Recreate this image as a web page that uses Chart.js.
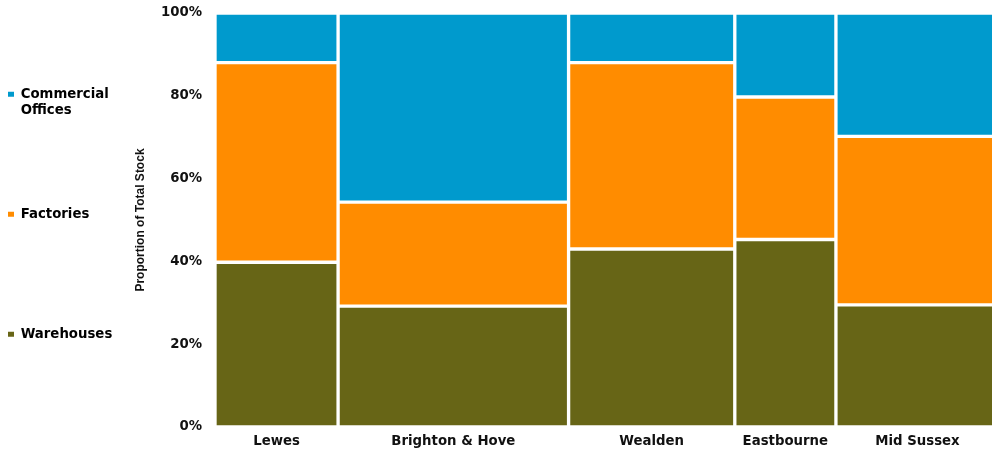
<!DOCTYPE html>
<html>
<head>
<meta charset="utf-8">
<title>Proportion of Total Stock</title>
<script src="https://cdn.jsdelivr.net/npm/chart.js@4.4.0/dist/chart.umd.min.js"></script>
<style>
  html, body { margin: 0; padding: 0; background: #fff; overflow: hidden; }
  /* the plot runs a few px past the right edge of the window, as in the original */
  #wrap { width: 999px; height: 454px; position: relative; }
</style>
</head>
<body>
<div id="wrap"><canvas id="stockChart"></canvas></div>
<script>
const districts = ['Lewes', 'Brighton & Hove', 'Wealden', 'Eastbourne', 'Mid Sussex'];
// each district's share of all stock -> column width (%)
const districtShare = [15.7, 29.4, 21.2, 12.9, 20.8];
// split of stock inside each district (%)
const warehouses = [39.8, 29.2, 43.0, 45.3, 29.5];
const factories = [48.2, 25.1, 45.0, 34.4, 40.7];
const commercialOffices = [12.0, 45.7, 12.0, 20.3, 29.8];
const yTicks = [0, 20, 40, 60, 80, 100];

const colours = {
    warehouses: '#676516',
    factories: '#ff8c00',
    commercialOffices: '#009acd'
};

// column edges on the 0-100 x scale
const colStart = [];
const colEnd = [];
let acc = 0;
districtShare.forEach(w => {
    colStart.push(acc);
    acc += w;
    colEnd.push(acc);
});
const colMid = colStart.map((s, i) => (s + colEnd[i]) / 2);

// one dataset per district, three floating bars stacked by hand
const datasets = districts.map((name, i) => {
    const w = warehouses[i];
    const f = factories[i];
    const c = commercialOffices[i];
    return {
        label: name,
        data: [
            {x: colMid[i], y: [0, w]},
            {x: colMid[i], y: [w, w + f]},
            {x: colMid[i], y: [w + f, w + f + c]}
        ],
        backgroundColor: [colours.warehouses, colours.factories, colours.commercialOffices],
        borderColor: '#ffffff',
        borderWidth: 2,
        borderSkipped: false,
        grouped: false,
        // width of the column follows the district's share
        barThickness: ctx => {
            const x = ctx.chart.scales.x;
            return x.getPixelForValue(colEnd[i]) - x.getPixelForValue(colStart[i]);
        }
    };
});

Chart.defaults.font.family = 'DejaVu Sans';
Chart.defaults.color = '#111';

const labelFont = {family: 'DejaVu Sans', weight: 'bold', size: 13.3};

const ctx = document.getElementById('stockChart').getContext('2d');
new Chart(ctx, {
    type: 'bar',
    data: {datasets: datasets},
    options: {
        responsive: true,
        maintainAspectRatio: false,
        animation: false,
        layout: {
            padding: {top: 13, right: 0, bottom: 4, left: 0}
        },
        plugins: {
            tooltip: {enabled: false},
            legend: {
                position: 'left',
                align: 'center',
                onClick: null,
                labels: {
                    boxWidth: 6,
                    boxHeight: 5,
                    padding: 8,
                    color: '#111',
                    font: {family: 'DejaVu Sans', weight: 'bold', size: 13.3, lineHeight: '16px'},
                    // blank lines keep the legend entries spread down the side
                    generateLabels: () => [
                        {text: ['Commercial', 'Offices', '', '', '', '', ''], fillStyle: colours.commercialOffices, strokeStyle: colours.commercialOffices, lineWidth: 0, hidden: false},
                        {text: ['Factories', '', '', '', '', '', ''], fillStyle: colours.factories, strokeStyle: colours.factories, lineWidth: 0, hidden: false},
                        {text: ['Warehouses', '', ''], fillStyle: colours.warehouses, strokeStyle: colours.warehouses, lineWidth: 0, hidden: false}
                    ]
                }
            }
        },
        scales: {
            x: {
                type: 'linear',
                min: 0,
                max: 100,
                offset: false,
                grid: {display: false, drawTicks: false},
                border: {display: false},
                afterBuildTicks: scale => {
                    scale.ticks = colMid.map(v => ({value: v}));
                },
                afterFit: scale => {
                    scale.height = 23;
                    scale.paddingLeft = 0;
                    scale.paddingRight = 0;
                },
                ticks: {
                    autoSkip: false,
                    maxRotation: 0,
                    padding: 7,
                    color: '#111',
                    font: labelFont,
                    callback: (value, index) => districts[index]
                }
            },
            y: {
                type: 'linear',
                min: 0,
                max: 100,
                grid: {display: false, drawTicks: false},
                border: {display: false},
                afterBuildTicks: scale => {
                    scale.ticks = yTicks.map(v => ({value: v}));
                },
                afterFit: scale => {
                    scale.width = 215 - scale.chart.legend.width;
                    scale.paddingTop = 0;
                    scale.paddingBottom = 0;
                },
                ticks: {
                    padding: 13,
                    color: '#111',
                    font: labelFont,
                    callback: value => value + '%'
                },
                title: {
                    display: true,
                    text: 'Proportion of Total Stock',
                    color: '#111',
                    font: {family: 'Liberation Sans', weight: 'bold', size: 12},
                    padding: {top: 11, bottom: 0}
                }
            }
        }
    }
});
</script>
</body>
</html>
